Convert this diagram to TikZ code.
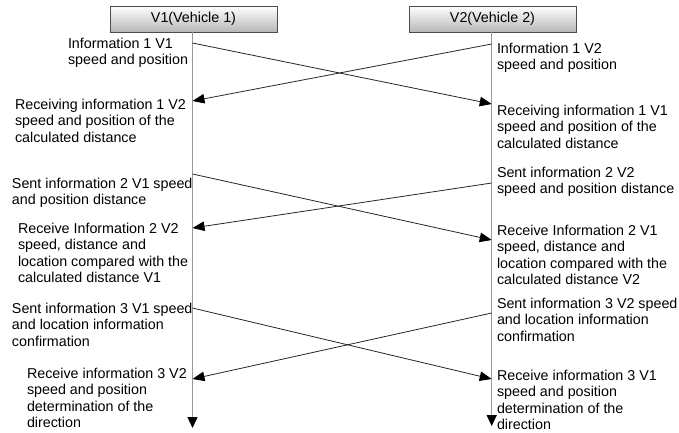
\documentclass[tikz,border=0pt]{standalone}
\usepackage{fontspec}
\setmainfont{Liberation Sans}
\usetikzlibrary{arrows.meta}
\begin{document}
\begin{tikzpicture}[x=1pt,y=-1pt,
  every node/.style={inner sep=0pt,outer sep=0pt},
  actor/.style={draw=black!70,line width=0.8pt,top color=white,bottom color=black!28,minimum width=167pt,minimum height=26pt,font=\fontsize{14.3}{16.5}\selectfont},
  lbl/.style={anchor=base west,align=left,font=\fontsize{14.3}{16.5}\selectfont},
  life/.style={draw=black!40,line width=1.3pt,-{Triangle[length=11pt,width=10pt,color=black]}},
  msg/.style={draw=black!85,line width=0.8pt,-{Triangle[length=12pt,width=9.5pt,color=black]}}]
\useasboundingbox (0,0) rectangle (679,432);
\node[actor] (v1) at (193.5,19) {V1(Vehicle 1)};
\node[actor] (v2) at (492.5,19) {V2(Vehicle 2)};
% lifeline coordinates
\coordinate (l1top) at (192.5,32);
\coordinate (l1end) at (192.5,428);
\coordinate (l2top) at (491.7,32);
\coordinate (l2end) at (491.7,426);
\draw[life] (l1top) -- (l1end);
\draw[life] (l2top) -- (l2end);
% message endpoints
\coordinate (s1) at (192.5,43);  \coordinate (r1) at (491.7,104);
\coordinate (s2) at (491.7,44);  \coordinate (r2) at (192.5,101);
\coordinate (s3) at (192.5,174); \coordinate (r3) at (491.7,240);
\coordinate (s4) at (491.7,183); \coordinate (r4) at (192.5,228);
\coordinate (s5) at (192.5,308); \coordinate (r5) at (491.7,379);
\coordinate (s6) at (491.7,313); \coordinate (r6) at (192.5,379);
\draw[msg] (s1) -- (r1);
\draw[msg] (s2) -- (r2);
\draw[msg] (s3) -- (r3);
\draw[msg] (s4) -- (r4);
\draw[msg] (s5) -- (r5);
\draw[msg] (s6) -- (r6);
% left texts (anchor = baseline of the last line)
\node[lbl] (t1) at (68,64.5) {Information 1 V1\\speed and position};
\node[lbl] (t2) at (15,142) {Receiving information 1 V2\\speed and position of the\\calculated distance};
\node[lbl] (t3) at (12,204.5) {Sent information 2 V1 speed\\and position distance};
\node[lbl] (t4) at (18,282.5) {Receive Information 2 V2\\speed, distance and\\location compared with the\\calculated distance V1};
\node[lbl] (t5) at (12,346) {Sent information 3 V1 speed\\and location information\\confirmation};
\node[lbl] (t6) at (27,427.5) {Receive information 3 V2\\speed and position\\determination of the\\direction};
% right texts
\node[lbl] (u1) at (497,69.5) {Information 1 V2\\speed and position};
\node[lbl] (u2) at (497,148) {Receiving information 1 V1\\speed and position of the\\calculated distance};
\node[lbl] (u3) at (497,193.5) {Sent information 2 V2\\speed and position distance};
\node[lbl] (u4) at (497,284.5) {Receive Information 2 V1\\speed, distance and\\location compared with the\\calculated distance V2};
\node[lbl] (u5) at (497,341) {Sent information 3 V2 speed\\and location information\\confirmation};
\node[lbl] (u6) at (497,429.5) {Receive information 3 V1\\speed and position\\determination of the\\direction};
\end{tikzpicture}
\end{document}
